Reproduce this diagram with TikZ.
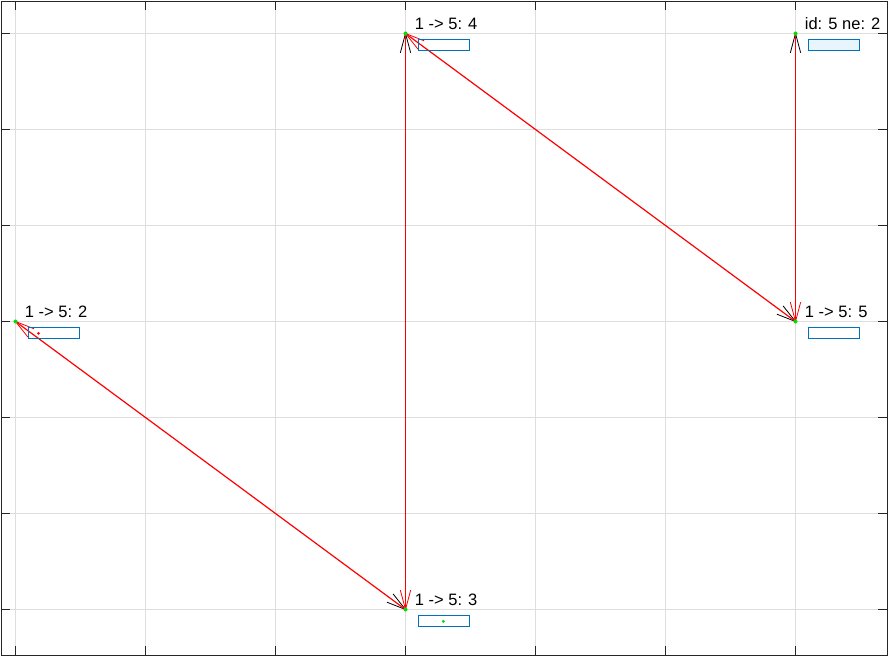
\documentclass[tikz,border=0pt]{standalone}
\usepackage{fontspec}
\setmainfont{Liberation Sans}
\usepackage{tikz}
\usetikzlibrary{positioning, calc}
\definecolor{axisgray}{HTML}{262626}
\definecolor{gridgray}{HTML}{DEDEDE}
\definecolor{tagblue}{HTML}{0072BD}
\definecolor{tagfill}{HTML}{E8F5FC}
\definecolor{ptgreen}{HTML}{00E000}

\begin{document}
\begin{tikzpicture}[x=1pt, y=1pt, line width=0.8pt,
  hop/.style={red, line width=1.2pt},
  lbl/.style={anchor=base west, inner sep=0, font=\fontsize{16.5}{18}\selectfont},
  tag/.style={draw=tagblue, anchor=north west, minimum width=51pt, minimum height=11pt, inner sep=0}]
\useasboundingbox (0,0) rectangle (889,656);
\foreach \gx in {15.5,145.5,...,795.5} \draw[gridgray] (\gx,1) -- (\gx,655);
\foreach \gy in {46.5,142.5,...,622.5} \draw[gridgray] (1,\gy) -- (887,\gy);
\foreach \gx in {15.5,145.5,...,795.5} \draw[axisgray] (\gx,1) -- (\gx,10) (\gx,655) -- (\gx,646);
\foreach \gy in {46.5,142.5,...,622.5} \draw[axisgray] (1,\gy) -- (10,\gy) (887,\gy) -- (878,\gy);
\draw[axisgray] (1,1) rectangle (887,655);
\coordinate (v2) at (15.5,334.5);
\coordinate (v3) at (405.5,46.5);
\coordinate (v4) at (405.5,622.5);
\coordinate (v5) at (795.5,334.5);
\coordinate (v6) at (795.5,622.5);
\foreach \ea/\eb in {v2/v3, v3/v4, v4/v5, v5/v6} {
  \draw[black] let \p1=($(\ea)-(\eb)$), \n1={atan2(\y1,\x1)+15}, \n2={atan2(\y1,\x1)-15}
    in ($(\eb)+(\n1:20pt)$) -- (\eb) -- ($(\eb)+(\n2:20pt)$);
  \draw[hop] (\ea) -- (\eb);
  \draw[red] let \p1=($(\eb)-(\ea)$), \n1={atan2(\y1,\x1)+15}, \n2={atan2(\y1,\x1)-15}
    in ($(\ea)+(\n1:20pt)$) -- (\ea) -- ($(\ea)+(\n2:20pt)$);
}
\foreach \v in {v2,v3,v4,v5,v6} \fill[ptgreen] (\v) circle (2);
\node[lbl] (l2) at ($(v2)+(9,4)$) {1 -> 5: 2};
\node[lbl] (l3) at ($(v3)+(9,4)$) {1 -> 5: 3};
\node[lbl] (l4) at ($(v4)+(9,4)$) {1 -> 5: 4};
\node[lbl] (l5) at ($(v5)+(9,4)$) {1 -> 5: 5};
\node[lbl] (l6) at ($(v6)+(9,4)$) {id: 5 ne: 2};
\node[tag] (b2) at ($(v2)+(12,-6)$) {};
\node[tag] (b3) at ($(v3)+(12,-6)$) {};
\node[tag] (b4) at ($(v4)+(12,-6)$) {};
\node[tag] (b5) at ($(v5)+(12,-6)$) {};
\node[tag, fill=tagfill] (b6) at ($(v6)+(12,-6)$) {};
\fill[red] ($(b2.west)+(11,0)$) circle (1.6);
\fill[ptgreen] (b3.center) circle (1.6);
\end{tikzpicture}
\end{document}
